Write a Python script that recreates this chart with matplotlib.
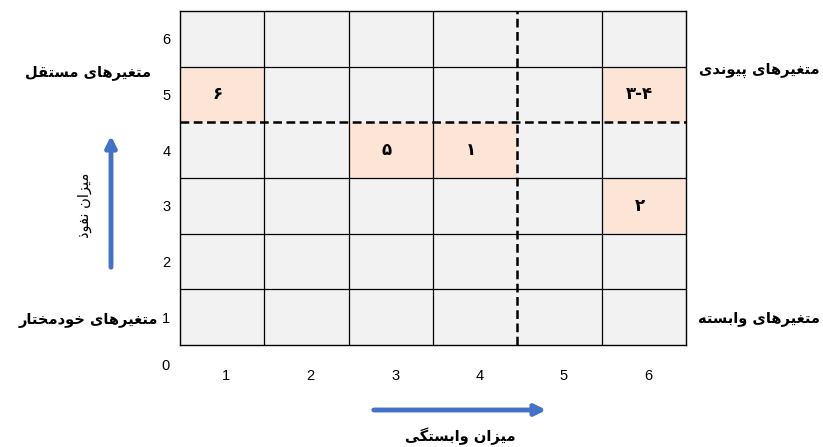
"""MICMAC-style influence / dependence grid."""

import numpy as np
import matplotlib
matplotlib.use('Agg')
import matplotlib.pyplot as plt  # noqa: E402
from matplotlib.colors import ListedColormap  # noqa: E402

# ----------------------------------------------------------------------------
# Data

dependence_ticks = ['1', '2', '3', '4', '5', '6']
influence_ticks = ['1', '2', '3', '4', '5', '6']

# (dependence column, influence row, label)
cell_cols = [1, 6, 3, 4, 6]
cell_rows = [5, 5, 4, 4, 3]
cell_labels = ['۶', '۳-۴', '۵', '۱', '۲']

split_dependence = 4
split_influence = 4

quadrant_labels = ['متغیرهای مستقل', 'متغیرهای پیوندی',
                   'متغیرهای خودمختار', 'متغیرهای وابسته']
x_title = 'میزان وابستگی'
y_title = 'میزان نفوذ'

# ----------------------------------------------------------------------------
# Tiny Persian shaper: matplotlib draws glyphs left to right without joining

FORMS = {  # isolated, final, initial, medial
    'ا': (0xFE8D, 0xFE8E), 'د': (0xFEA9, 0xFEAA), 'ذ': (0xFEAB, 0xFEAC),
    'ر': (0xFEAD, 0xFEAE), 'ز': (0xFEAF, 0xFEB0), 'و': (0xFEED, 0xFEEE),
    'ب': (0xFE8F, 0xFE90, 0xFE91, 0xFE92), 'ت': (0xFE95, 0xFE96, 0xFE97, 0xFE98),
    'خ': (0xFEA5, 0xFEA6, 0xFEA7, 0xFEA8), 'س': (0xFEB1, 0xFEB2, 0xFEB3, 0xFEB4),
    'غ': (0xFECD, 0xFECE, 0xFECF, 0xFED0), 'ف': (0xFED1, 0xFED2, 0xFED3, 0xFED4),
    'ق': (0xFED5, 0xFED6, 0xFED7, 0xFED8), 'ل': (0xFEDD, 0xFEDE, 0xFEDF, 0xFEE0),
    'م': (0xFEE1, 0xFEE2, 0xFEE3, 0xFEE4), 'ن': (0xFEE5, 0xFEE6, 0xFEE7, 0xFEE8),
    'ه': (0xFEE9, 0xFEEA, 0xFEEB, 0xFEEC), 'ی': (0xFBFC, 0xFBFD, 0xFBFE, 0xFBFF),
    'پ': (0xFB56, 0xFB57, 0xFB58, 0xFB59), 'گ': (0xFB92, 0xFB93, 0xFB94, 0xFB95),
}


def shape(text):
    out = []
    for i, ch in enumerate(text):
        if ch not in FORMS:
            out.append(ch)
            continue
        prev = text[i - 1] if i > 0 else ''
        nxt = text[i + 1] if i + 1 < len(text) else ''
        joins_prev = prev in FORMS and len(FORMS[prev]) == 4
        joins_next = len(FORMS[ch]) == 4 and nxt in FORMS
        forms = FORMS[ch]
        if joins_prev and joins_next:
            code = forms[3]
        elif joins_prev:
            code = forms[1]
        elif joins_next:
            code = forms[2]
        else:
            code = forms[0]
        out.append(chr(code))
    return ''.join(out)[::-1]


# ----------------------------------------------------------------------------
# Plot

plt.rcParams['font.family'] = ['Liberation Sans', 'DejaVu Sans']

fig = plt.figure(figsize=(8.23, 4.47), dpi=100)
ax = fig.add_axes([0.2187, 0.2282, 0.6148, 0.7472])

n = len(dependence_ticks)
grid = np.zeros((n, n))
for c, r in zip(cell_cols, cell_rows):
    grid[r - 1, c - 1] = 1

cmap = ListedColormap(['#f2f2f2', '#fce4d6'])
ax.pcolormesh(np.arange(n + 1), np.arange(n + 1), grid, cmap=cmap,
              vmin=0, vmax=1, edgecolors='none')

# Solid cell borders, except where the dashed quadrant splits run
inner = [k for k in range(1, n)]
ax.vlines([k for k in inner if k != split_dependence], 0, n,
          color='black', lw=0.9, zorder=2)
ax.hlines([k for k in inner if k != split_influence], 0, n,
          color='black', lw=0.9, zorder=2)
ax.vlines(split_dependence, 0, n, color='black', lw=1.8,
          linestyles=(0, (3.5, 1.8)), zorder=3)
ax.hlines(split_influence, 0, n, color='black', lw=1.8,
          linestyles=(0, (3.5, 1.8)), zorder=3)

for c, r, lab in zip(cell_cols, cell_rows, cell_labels):
    ax.text(c - 0.55, r - 0.5, lab, ha='center', va='center', fontsize=12,
            fontweight='bold', family=['DejaVu Sans'])

ax.set_xlim(0, n)
ax.set_ylim(0, n)
ax.set_xticks(np.arange(n) + 0.55, dependence_ticks)
ax.set_yticks(np.arange(n) + 0.5, influence_ticks)
ax.tick_params(length=0, labelsize=10.5)
ax.tick_params(axis='x', pad=17)
ax.tick_params(axis='y', pad=7)
for s in ax.spines.values():
    s.set_linewidth(1.0)
ax.text(-0.12, -0.38, '0', ha='right', va='center', fontsize=10.5)

# Quadrant names
bold = dict(fontsize=10.5, fontweight='bold', family=['DejaVu Sans'],
            va='center')
fig.text(88 / 823, 1 - 72 / 447, shape(quadrant_labels[0]), ha='center', **bold)
fig.text(820 / 823, 1 - 70 / 447, shape(quadrant_labels[1]), ha='right', **bold)
fig.text(88 / 823, 1 - 320 / 447, shape(quadrant_labels[2]), ha='center', **bold)
fig.text(820 / 823, 1 - 318 / 447, shape(quadrant_labels[3]), ha='right', **bold)

# Axis arrows and titles
blue = '#4472c4'
arrow = dict(arrowstyle='-|>', color=blue, lw=3.5, mutation_scale=16)
ax.annotate('', xy=(111 / 823, 1 - 133 / 447), xytext=(111 / 823, 1 - 270 / 447),
            xycoords='figure fraction', arrowprops=arrow, annotation_clip=False)
ax.annotate('', xy=(549 / 823, 1 - 410 / 447), xytext=(371 / 823, 1 - 410 / 447),
            xycoords='figure fraction', arrowprops=arrow, annotation_clip=False)
fig.text(460 / 823, 1 - 436 / 447, shape(x_title), ha='center', va='center',
         fontsize=10.5, fontweight='bold', family=['DejaVu Sans'])
fig.text(85 / 823, 1 - 205 / 447, shape(y_title), ha='center', va='center',
         rotation=90, fontsize=10.5, family=['DejaVu Sans'])

fig.savefig('out.png', dpi=100)
